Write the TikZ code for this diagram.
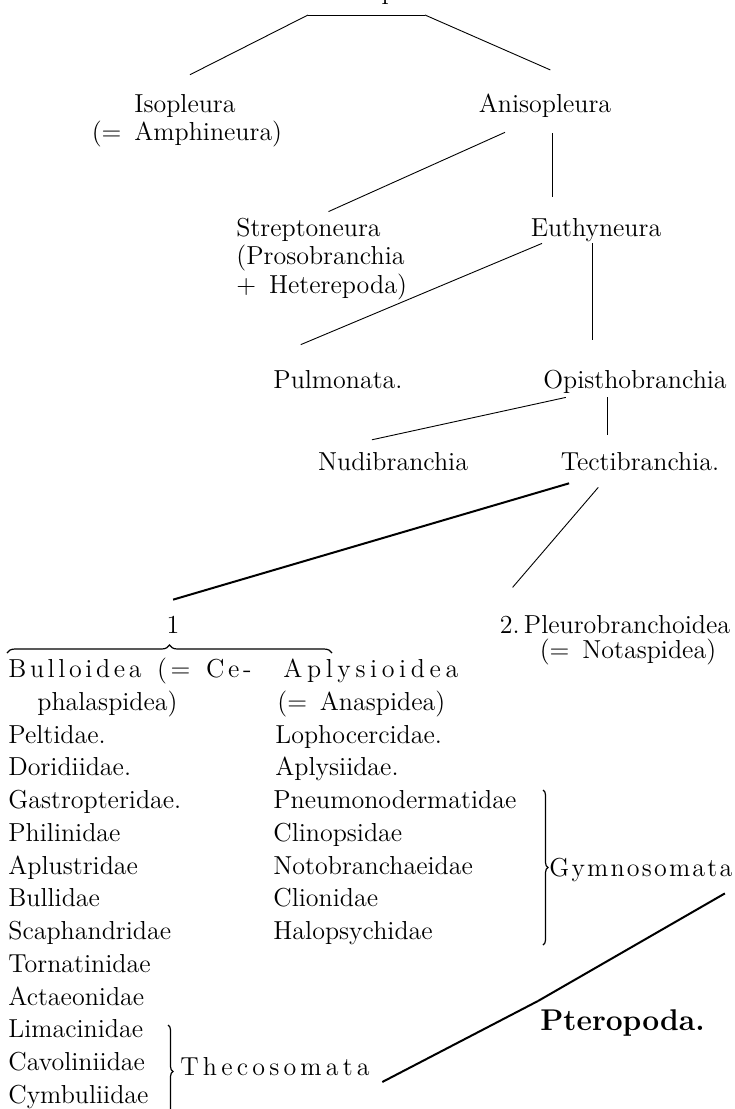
\documentclass[tikz,border=0pt]{standalone}
\usepackage{fontspec}
\usetikzlibrary{decorations.pathreplacing}
\tikzstyle{taxon} = [inner sep=1pt, text height=9pt, text depth=2.5pt, anchor=base, font=\fontsize{13}{15}\selectfont]
\tikzstyle{family} = [taxon, inner sep=0pt, anchor=base west]
\tikzstyle{branch} = [draw, line width=0.45pt]
\tikzstyle{heavy} = [draw, line width=1pt]
\tikzstyle{groupbrace} = [draw, line width=0.6pt, decorate, decoration={brace, amplitude=4pt}]
\newlength{\lspgap}
\def\spacedrun#1{\ifx\relax#1\else#1\kern\lspgap\expandafter\spacedrun\fi}
\newcommand{\spaced}[2]{{\setlength{\lspgap}{#1}\spacedrun#2\relax}}

\begin{document}
\begin{tikzpicture}[x=0.5pt, y=-0.5pt]
    \useasboundingbox (0, 0) rectangle (734, 1109);

    \node[taxon, anchor=base west] (title) at (304, -1) {Gastropoda};
    \coordinate (ruleL) at (308, 15);
    \coordinate (ruleR) at (425, 15);
    \path[branch] (ruleL) to (ruleR);

    \node[taxon] (iso) at (185, 112) {Isopleura};
    \node[taxon] (amphi) at (187, 140) {(=\, Amphineura)};
    \node[taxon] (aniso) at (545, 112) {Anisopleura};
    \path[branch, shorten >=18.7pt] (ruleL) to ([xshift=-14.2pt]iso.north);
    \path[branch, shorten >=27pt] (ruleR) to ([xshift=27.4pt]aniso.north);

    \node[taxon, anchor=base west] (strep) at (234, 236) {Streptoneura};
    \node[taxon, anchor=base west] (proso) at (234, 264) {(Prosobranchia};
    \node[taxon, anchor=base west] (hetero) at (234, 293) {+\, Heterepoda)};
    \node[taxon] (euthy) at (596, 236) {Euthyneura};
    \path[branch, shorten <=15.8pt, shorten >=4.9pt] ([xshift=-5.6pt]aniso.south) to ([xshift=5.5pt]strep.north);
    \path[branch, shorten <=7pt, shorten >=9.5pt] ([xshift=3.5pt]aniso.south) to ([xshift=3.5pt]aniso.south |- euthy.north);

    \node[taxon] (pulmo) at (338, 388) {Pulmonata.};
    \node[taxon] (opis) at (635, 388) {Opisthobranchia};
    \path[branch, shorten >=29.7pt] ([xshift=-27pt]euthy.south) to ([xshift=-46pt]pulmo.north);
    \path[branch, shorten >=14pt] ([xshift=-2pt]euthy.south) to ([xshift=-2pt]euthy.south |- opis.north);

    \node[taxon] (nudi) at (393, 470) {Nudibranchia};
    \node[taxon] (tecti) at (640, 470) {Tectibranchia.};
    \path[branch, shorten <=4.7pt, shorten >=23pt] ([xshift=-30pt]opis.south) to ([xshift=-33pt]nudi.north);
    \path[branch, shorten <=1pt, shorten >=7.5pt] ([xshift=-14pt]opis.south) to ([xshift=-14pt]opis.south |- tecti.north);

    \node[taxon] (one) at (173, 633) {1};
    \node[taxon] (pleuro) at (615, 633) {2.\,Pleurobranchoidea};
    \node[taxon] (notasp) at (628, 658) {(=\, Notaspidea)};
    \path[heavy, shorten <=10.5pt, shorten >=23pt] ([xshift=-25.4pt]tecti.south) to ([xshift=-22pt]one.north);
    \path[branch, shorten <=6.6pt, shorten >=16.6pt] ([xshift=-16.6pt]tecti.south) to ([xshift=-62pt]pleuro.north);

    \coordinate (braceL) at (7, 653);
    \coordinate (braceR) at (332, 653);
    \path[groupbrace] (braceL) to (braceR);

    \node[family] (bulloidea) at (8, 677) {\spaced{1.8pt}{Bulloidea~(=~Ce-}};
    \node[family] (bulloidea2) at (37, 710) {phalaspidea)};
    \node[family] (peltidae) at (8, 743) {Peltidae.};
    \node[family] (doridiidae) at (8, 775) {Doridiidae.};
    \node[family] (gastropteridae) at (8, 808) {Gastropteridae.};
    \node[family] (philinidae) at (8, 841) {Philinidae};
    \node[family] (aplustridae) at (8, 874) {Aplustridae};
    \node[family] (bullidae) at (8, 906) {Bullidae};
    \node[family] (scaphandridae) at (8, 939) {Scaphandridae};
    \node[family] (tornatinidae) at (8, 972) {Tornatinidae};
    \node[family] (actaeonidae) at (8, 1005) {Actaeonidae};
    \node[family] (limacinidae) at (8, 1037) {Limacinidae};
    \node[family] (cavoliniidae) at (8, 1070) {Cavoliniidae};
    \node[family] (cymbuliidae) at (8, 1103) {Cymbuliidae};

    \node[family] (aplysioidea) at (283, 677) {\spaced{2.3pt}{Aplysioidea}};
    \node[family] (aplysioidea2) at (277, 710) {(=\, Anaspidea)};
    \node[family] (lophocercidae) at (275, 743) {Lophocercidae.};
    \node[family] (aplysiidae) at (275, 775) {Aplysiidae.};
    \node[family] (pneumono) at (273, 808) {Pneumonodermatidae};
    \node[family] (clinopsidae) at (273, 841) {Clinopsidae};
    \node[family] (notobranch) at (273, 874) {Notobranchaeidae};
    \node[family] (clionidae) at (273, 906) {Clionidae};
    \node[family] (halopsychidae) at (273, 939) {Halopsychidae};

    \coordinate (gymTop) at (543, 790);
    \coordinate (gymBot) at (543, 945);
    \path[groupbrace, decoration={brace, amplitude=2.5pt}] (gymTop) to (gymBot);
    \node[family] (gym) at (549, 876) {\spaced{1.1pt}{Gymnosomata}};

    \coordinate (thecTop) at (168, 1025);
    \coordinate (thecBot) at (168, 1118);
    \path[groupbrace, decoration={brace, amplitude=2.5pt}] (thecTop) to (thecBot);
    \node[family] (thec) at (180, 1075) {\spaced{2.1pt}{Thecosomata}};

    \node[family, font=\fontsize{15}{18}\selectfont\bfseries] (ptero) at (540, 1030) {Pteropoda.};
    \coordinate (ptTip) at (538, 1001);
    \path[heavy] ([xshift=-5pt, yshift=-6pt]gym.south east) to (ptTip);
    \path[heavy] ([xshift=4pt, yshift=-3.5pt]thec.base east) to (ptTip);

\end{tikzpicture}
\end{document}
